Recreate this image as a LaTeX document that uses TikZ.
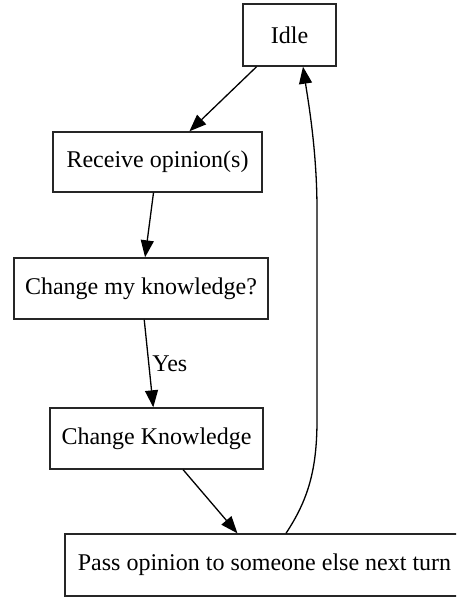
\documentclass[tikz,border=0pt]{standalone}
\usepackage{fontspec}
\setmainfont{Liberation Serif}
\usetikzlibrary{arrows.meta,calc}

\begin{document}
\begin{tikzpicture}[x=1pt,y=-1pt,
    state/.style={draw=black!85,line width=1.4pt,inner sep=0pt,font=\fontsize{24}{28}\selectfont},
    flow/.style={line width=1.3pt,-{Triangle[length=17pt,width=13pt]}}]

\clip (0,0) rectangle (456,598);

\node[state,minimum width=93,minimum height=62] (idle) at (289.5,35) {Idle};
\node[state,minimum width=209,minimum height=60] (receive) at (157.5,162) {Receive opinion(s)};
\node[state,minimum width=254,minimum height=61] (decide) at (141,288.5) {Change my knowledge?};
\node[state,minimum width=213,minimum height=61] (change) at (156.5,438.5) {Change Knowledge};
\node[state,minimum width=399,minimum height=62] (pass) at (264.5,565) {Pass opinion to someone else next turn};

\draw[flow] (idle) -- (receive);
\draw[flow] (receive) -- (decide);
\draw[flow] (decide) -- node[right,inner sep=3pt,font=\fontsize{24}{28}\selectfont] (yes) {Yes} (change);
\draw[flow] (change) -- (pass);

% back to idle
\draw[flow] ($(pass.north)+(21.5,0)$) .. controls (308,500) and (317,470) .. (317,420)
    -- (317,210) .. controls (317,150) and (308,100) .. ($(idle.south)+(13.5,0)$);
\end{tikzpicture}
\end{document}
